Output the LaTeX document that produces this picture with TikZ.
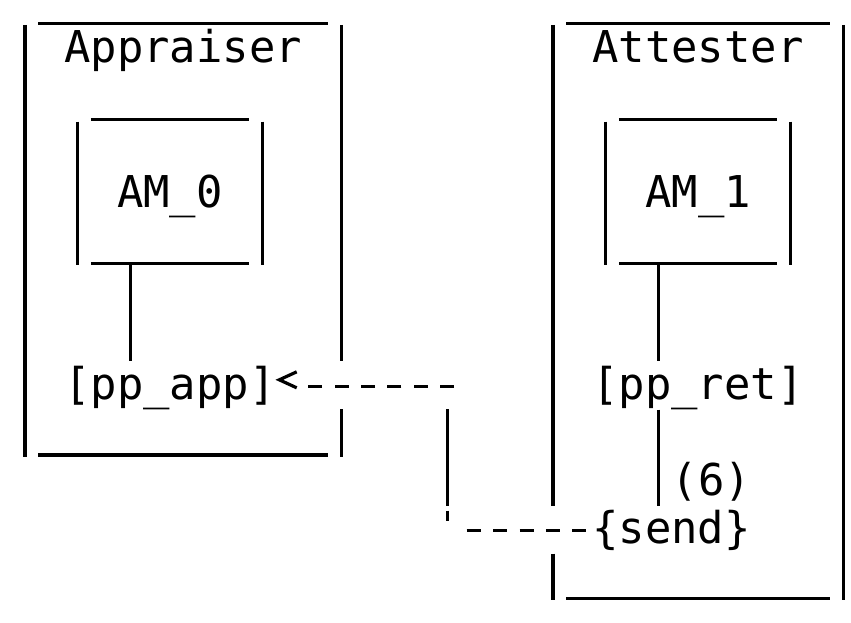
\documentclass[tikz,border=0pt]{standalone}
\usepackage{fontspec}
\setmonofont{DejaVu Sans Mono}
\usetikzlibrary{calc}
\begin{document}
\begin{tikzpicture}[x=1pt,y=-1pt,
  lbl/.style={font=\fontsize{43.85}{48}\selectfont\ttfamily, inner sep=0pt, outer sep=0pt, anchor=base west},
  boxv/.style={line width=3.4pt},
  boxh/.style={line width=3.5pt},
  wire/.style={line width=2.8pt},
  dashwire/.style={line width=3.3pt, dash pattern=on 14pt off 12.4pt},
  chev/.style={line width=3.2pt, line join=miter},
]
\useasboundingbox (0,0) rectangle (851,623);
\fill[white] (0,0) rectangle (851,623);

% labels
\node[lbl] (appraiser) at (64.4,63) {Appraiser};
\node[lbl] (attester) at (592.4,63) {Attester};
\node[lbl] (am0) at (117.2,207.3) {AM\_0};
\node[lbl] (am1) at (645.2,207.3) {AM\_1};
\node[lbl] (ppapp) at (64.4,399.7) {[pp\_app]};
\node[lbl] (ppret) at (592.4,399.7) {[pp\_ret]};
\node[lbl] (six) at (671.6,495.8) {(6)};
\node[lbl] (send) at (592.4,543.9) {\{send\}};

% Appraiser box
\draw[boxh] (38,23.3) -- (328.4,23.3);
\draw[boxh] (38,455) -- (328.4,455);
\draw[boxv] (24.8,25) -- (24.8,456.7);
\draw[boxv] (341.6,25) -- (341.6,361.2);
\draw[boxv] (341.6,409.3) -- (341.6,456.7);

% Attester box
\draw[boxh] (566,23.3) -- (830,23.3);
\draw[boxh] (566,598.3) -- (830,598.3);
\draw[boxv] (552.8,25) -- (552.8,505.5);
\draw[boxv] (552.8,553.6) -- (552.8,600);
\draw[boxv] (843.2,25) -- (843.2,600);

% AM_0 box
\draw[boxh] (90.8,119.3) -- (249.2,119.3);
\draw[boxh] (90.8,263.3) -- (249.2,263.3);
\draw[boxv] (77.6,121.7) -- (77.6,265);
\draw[boxv] (262.4,121.7) -- (262.4,265);

% AM_1 box
\draw[boxh] (618.8,119.3) -- (777.2,119.3);
\draw[boxh] (618.8,263.3) -- (777.2,263.3);
\draw[boxv] (605.6,121.7) -- (605.6,265);
\draw[boxv] (790.4,121.7) -- (790.4,265);

% connectors
\coordinate (am0b) at (130.4,265);
\coordinate (am1b) at (658.4,265);
\draw[wire] (am0b) -- ($(am0b |- ppapp.north)+(0,-5)$);
\draw[wire] (am1b) -- ($(am1b |- ppret.north)+(0,-5)$);
\draw[wire] (ppret.south -| am1b) ++(0,-0.5) -- (658.4,505.5);

% dashed connector from {send} back to [pp_app]
\coordinate (turnlow) at (447.2,530.7);
\coordinate (turnhigh) at (447.2,386.7);
\draw[dashwire] ($(send.west |- turnlow)+(-125.7,0)$) -- ($(send.west |- turnlow)+(-5.7,0)$);
\draw[boxv] (447.2,510.5) -- (447.2,520.5);
\draw[wire] (447.2,409.3) -- (447.2,505.5);
\draw[dashwire] (454.2,386.7) -- (308.2,386.7);
\draw[chev] ($(ppapp.east)+(21.1,-16.4)$) -- ($(ppapp.east)+(3.7,-8.4)$) -- ($(ppapp.east)+(21.1,-0.4)$);
\end{tikzpicture}
\end{document}
